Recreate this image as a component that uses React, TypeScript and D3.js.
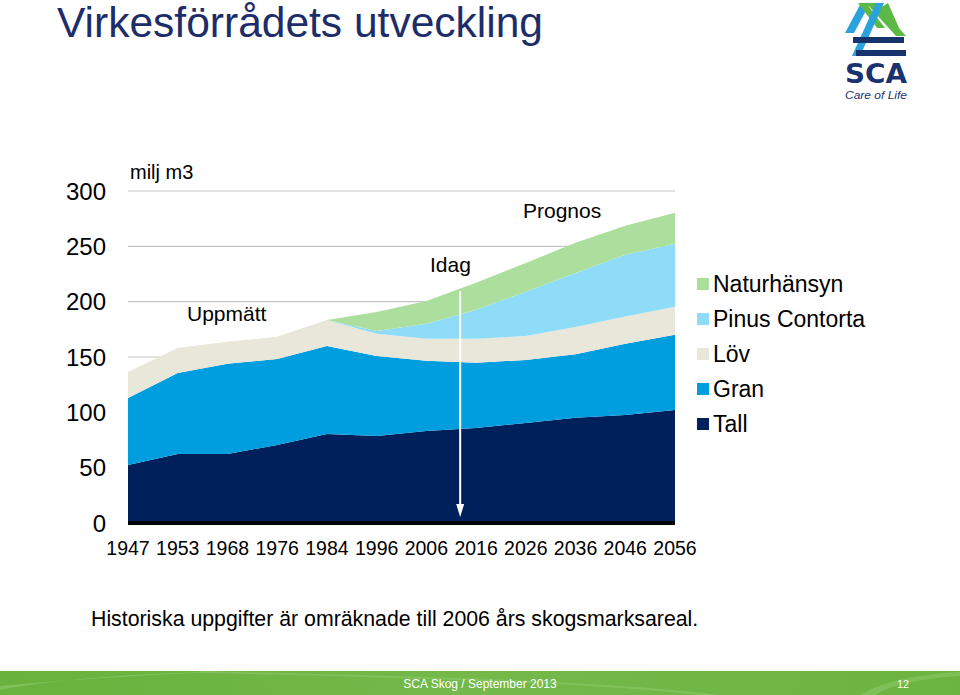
import React from "react";
import * as d3 from "d3";

const years = ["1947", "1953", "1968", "1976", "1984", "1996", "2006", "2016", "2026", "2036", "2046", "2056"];
const tall = [52.4, 62.4, 62.4, 70.5, 80.5, 78.7, 83.2, 85.9, 90.4, 95, 97.6, 102];
const gran = [60.6, 73.2, 81.4, 77.8, 79.5, 72.3, 63.3, 58.8, 57, 57.5, 64.4, 68];
const lov = [23.5, 22.6, 19.9, 19.9, 23.5, 20, 19.9, 21.7, 21.6, 24.7, 24.5, 25.5];
const pinus = [0, 0, 0, 0, 0, 2.5, 13.6, 26.2, 39.9, 48.8, 55.8, 56.8];
const natur = [0, 0, 0, 0, 0, 17.2, 20.7, 24.4, 26.1, 27.2, 26.2, 28];
const yTicks = [0, 50, 100, 150, 200, 250, 300];
const gridTicks = [150, 200, 250, 300];

const seriesKeys = ["Tall", "Gran", "Löv", "Pinus Contorta", "Naturhänsyn"];
const seriesColors = ["#00205c", "#009ddf", "#e9e7d9", "#8fdcf8", "#acdf9d"];
const legendOrder = ["Naturhänsyn", "Pinus Contorta", "Löv", "Gran", "Tall"];

const FONT = "'Liberation Sans', Arial, sans-serif";

export default function App() {
  const x = d3.scalePoint<string>().domain(years).range([128, 675]);
  const y = d3.scaleLinear().domain([0, 300]).range([523, 191]);

  const table = years.map((yr, i) => ({
    year: yr,
    Tall: tall[i],
    Gran: gran[i],
    "Löv": lov[i],
    "Pinus Contorta": pinus[i],
    "Naturhänsyn": natur[i],
  }));
  const stack = d3.stack<any>().keys(seriesKeys);
  const layers = stack(table);
  const area = d3
    .area<any>()
    .x((d) => x(d.data.year) as number)
    .y0((d) => y(d[0]))
    .y1((d) => y(d[1]))
    .curve(d3.curveLinear);

  const colorOf = (k: string) => seriesColors[seriesKeys.indexOf(k)];
  const arrowX = (x("2006") as number) + 0.68 * ((x("2016") as number) - (x("2006") as number));

  return (
    <svg width={960} height={695} style={{ position: "absolute", left: 0, top: 0, background: "#fff" }} fontFamily={FONT}>
      <defs>
        <linearGradient id="footg" x1="0" x2="1" y1="0" y2="0">
          <stop offset="0" stopColor="#68b23d" />
          <stop offset="0.5" stopColor="#74b94a" />
          <stop offset="1" stopColor="#6cb441" />
        </linearGradient>
      </defs>
      <rect x={0} y={0} width={960} height={695} fill="#fff" />
      {/* Title */}
      <text x={57} y={37} fontSize={42} fill="#1d2d6a" textLength={486} lengthAdjust="spacingAndGlyphs">
        Virkesförrådets utveckling
      </text>

      {/* Logo */}
      <g>
        <path d="M845,33 L861,3 L870,3 L854,33 Z" fill="#2aa3dc" />
        <path d="M866,3 L876,3 L906,36 L896,36 Z" fill="#5cb946" />
        <path d="M858,3 L866,3 L885,28 L877,28 Z" fill="#5cb946" />
        <path d="M876,3 L884,3 L860,56 L852,56 Z" fill="#2aa3dc" />
        <path d="M880,8 L888,3 L900,30 L892,30 Z" fill="#5cb946" />
        <rect x={853} y={37} width={51} height={6} fill="#16336b" />
        <rect x={856} y={50} width={50} height={6} fill="#16336b" />
        <text x={845} y={83} fontSize={27} fontWeight="bold" fill="#1a3370" fontFamily="'DejaVu Sans', sans-serif" textLength={62} lengthAdjust="spacingAndGlyphs">
          SCA
        </text>
        <text x={845} y={99} fontSize={11} fontStyle="italic" fill="#1a3370" textLength={62} lengthAdjust="spacingAndGlyphs">
          Care of Life
        </text>
      </g>

      {/* Grid lines */}
      {gridTicks.map((t) => (
        <line key={t} x1={128} x2={675} y1={y(t)} y2={y(t)} stroke="#c4c4c4" strokeWidth={1.2} />
      ))}

      {/* Areas */}
      {layers.map((l) => (
        <path key={l.key} d={area(l) as string} fill={colorOf(l.key)} />
      ))}

      {/* Baseline */}
      <line x1={128} x2={675} y1={y(0)} y2={y(0)} stroke="#000" strokeWidth={4} />

      {/* Idag arrow */}
      <line x1={arrowX} x2={arrowX} y1={291} y2={508} stroke="#fff" strokeWidth={2} />
      <path d={`M${arrowX - 4},504 L${arrowX + 4},504 L${arrowX},517 Z`} fill="#fff" />

      {/* Y tick labels */}
      {yTicks.map((t) => (
        <text key={t} x={106} y={y(t) + 8.5} textAnchor="end" fontSize={24} fill="#000">
          {t}
        </text>
      ))}

      {/* X labels */}
      {years.map((yr) => (
        <text key={yr} x={x(yr) as number} y={555} textAnchor="middle" fontSize={19.5} fill="#000">
          {yr}
        </text>
      ))}

      {/* Annotations */}
      <text x={130} y={179} fontSize={20} fill="#000">milj m3</text>
      <text x={187} y={321} fontSize={21} fill="#000">Uppmätt</text>
      <text x={430} y={272} fontSize={21} fill="#000">Idag</text>
      <text x={523} y={218} fontSize={21} fill="#000">Prognos</text>

      {/* Legend */}
      {legendOrder.map((k, i) => (
        <g key={k}>
          <rect x={697} y={278 + i * 35} width={12} height={12} fill={colorOf(k)} />
          <text x={713} y={292 + i * 35} fontSize={23} fill="#000">
            {k}
          </text>
        </g>
      ))}

      {/* Footnote */}
      <text x={91} y={626} fontSize={21.3} fill="#000">
        Historiska uppgifter är omräknade till 2006 års skogsmarksareal.
      </text>

      {/* Footer */}
      <rect x={0} y={671} width={960} height={24} fill="url(#footg)" />
      <path d="M0,690 C80,675 180,672 260,671 L240,671 C160,674 60,680 0,686 Z" fill="#8fcb6c" opacity={0.6} />
      <path d="M200,671 C400,676 600,680 720,695 L700,695 C580,682 380,677 200,673 Z" fill="#8fcb6c" opacity={0.5} />
      <path d="M860,695 C880,683 910,675 960,672 L960,676 C915,679 890,686 875,695 Z" fill="#8fcb6c" opacity={0.5} />
      <text x={480} y={688} textAnchor="middle" fontSize={12} fill="#fff">
        SCA Skog / September 2013
      </text>
      <text x={903} y={688} textAnchor="middle" fontSize={11} fill="#fff">
        12
      </text>
    </svg>
  );
}
